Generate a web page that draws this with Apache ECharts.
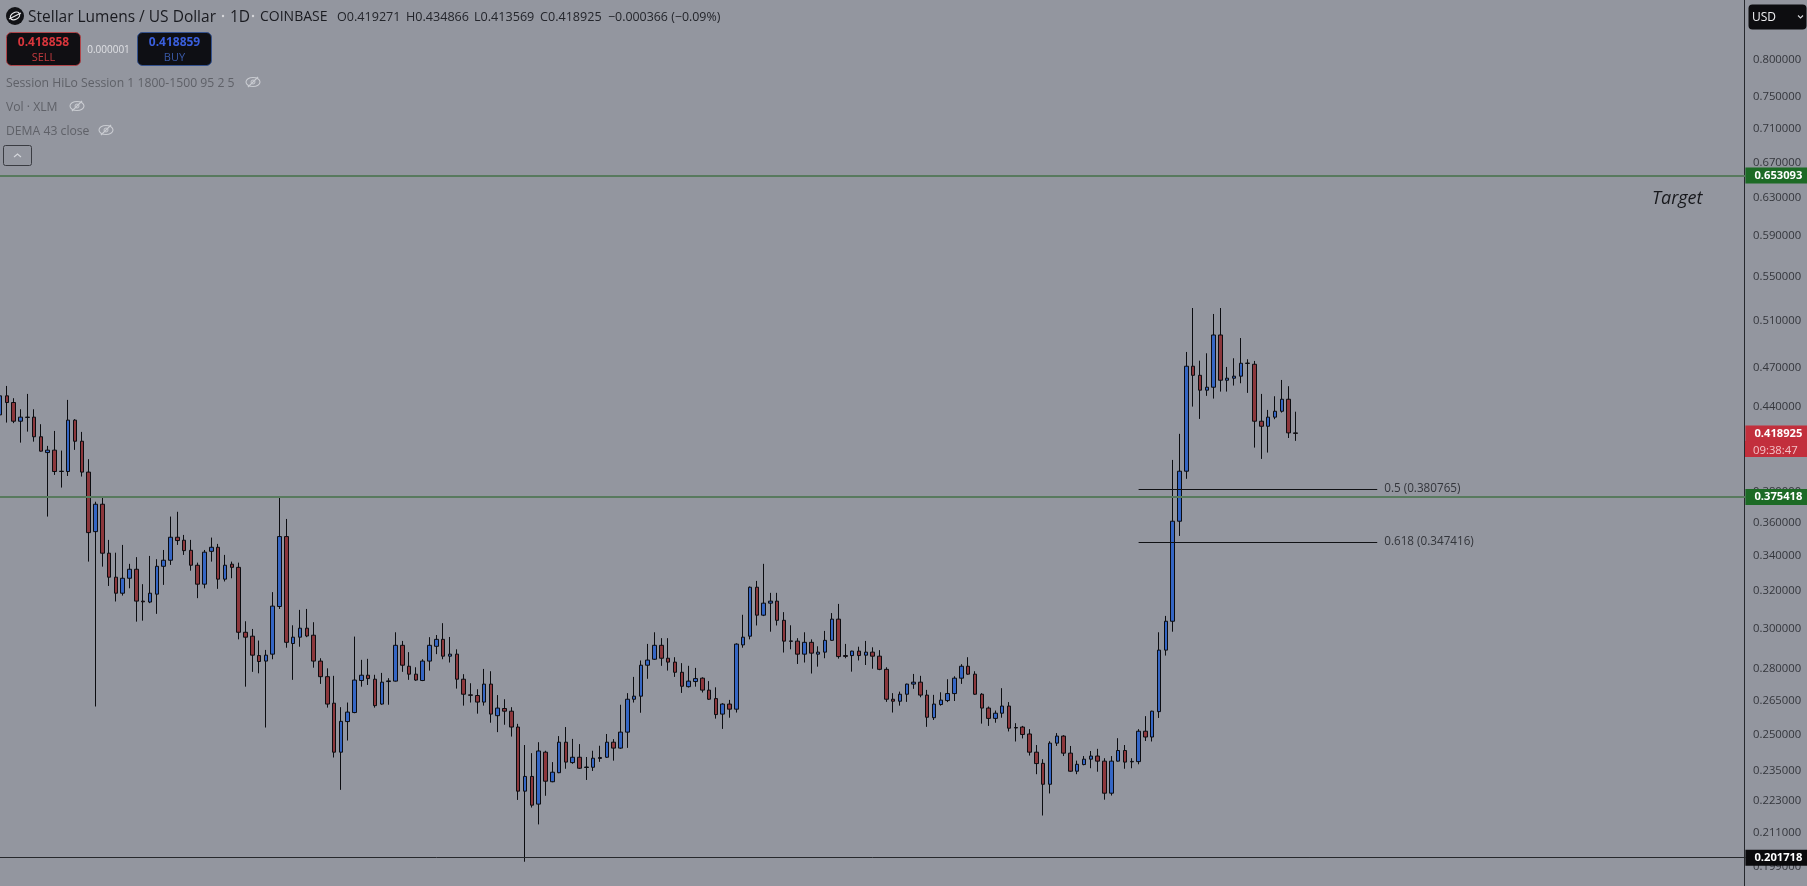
<!DOCTYPE html>
<html><head><meta charset="utf-8">
<style>html,body{margin:0;padding:0;background:#93969f;overflow:hidden}#c{width:1807px;height:886px}</style>
<script src="https://cdn.jsdelivr.net/npm/echarts@6/dist/echarts.min.js"></script>
</head><body><div id="c"></div>
<script>
const opens=[.4325,.4469,.4418,.4278,.4308,.4308,.4165,.4053,.4070,.3925,.3923,.4286,.4133,.3919,.3537,.3708,.3408,.3270,.3181,.3264,
.3315,.3138,.3133,.3176,.3332,.3367,.3503,.3485,.3425,.3338,.3231,.3419,.3443,.3259,.3344,.3326,.2974,.2954,.2857,.2830,
.2864,.3109,.3507,.2917,.2949,.2995,.2959,.2830,.2755,.2632,.2419,.2550,.2590,.2737,.2762,.2743,.2628,.2732,.2734,.2908,
.2805,.2767,.2737,.2830,.2903,.2938,.2854,.2864,.2743,.2670,.2667,.2637,.2720,.2576,.2608,.2596,.2526,.2262,.2320,.2212,
.2419,.2299,.2335,.2461,.2376,.2398,.2358,.2357,.2397,.2398,.2461,.2436,.2504,.2650,.2664,.2810,.2839,.2908,.2844,.2825,
.2776,.2708,.2732,.2748,.2692,.2653,.2583,.2628,.2605,.2910,.2954,.3214,.3063,.3127,.3138,.3036,.2930,.2929,.2864,.2923,
.2864,.2874,.2933,.3042,.2857,.2857,.2879,.2859,.2874,.2854,.2790,.2650,.2641,.2673,.2720,.2729,.2669,.2567,.2626,.2644,
.2676,.2748,.2805,.2767,.2673,.2610,.2564,.2587,.2619,.2524,.2526,.2496,.2419,.2373,.2289,.2457,.2487,.2415,.2341,.2368,
.2390,.2403,.2382,.2254,.2382,.2426,.2381,.2380,.2508,.2483,.2594,.2884,.3031,.3601,.3925,.4703,.4630,.4513,.4536,.4963,
.4591,.4607,.4623,.4728,.4719,.4278,.4241,.4308,.4352,.4443,.419271];
const closes=[.4469,.4418,.4278,.4308,.4306,.4165,.4063,.4070,.3923,.3923,.4286,.4133,.3919,.3531,.3708,.3408,.3270,.3181,.3264,.3315,
.3138,.3134,.3181,.3332,.3367,.3503,.3483,.3423,.3338,.3231,.3414,.3443,.3259,.3338,.3326,.2974,.2949,.2859,.2828,.2859,
.3111,.3507,.2923,.2949,.2995,.2955,.2830,.2755,.2628,.2419,.2551,.2592,.2739,.2762,.2746,.2621,.2729,.2735,.2908,.2810,
.2767,.2739,.2830,.2908,.2938,.2854,.2864,.2743,.2673,.2668,.2637,.2720,.2583,.2610,.2596,.2526,.2262,.2320,.2208,.2424,
.2301,.2337,.2461,.2378,.2398,.2353,.2356,.2394,.2393,.2461,.2436,.2504,.2650,.2664,.2810,.2835,.2908,.2844,.2825,.2776,
.2710,.2734,.2746,.2692,.2650,.2581,.2628,.2605,.2914,.2949,.3214,.3063,.3127,.3138,.3036,.2929,.2928,.2864,.2923,.2869,
.2874,.2933,.3042,.2852,.2853,.2879,.2857,.2874,.2854,.2790,.2650,.2641,.2673,.2720,.2729,.2669,.2569,.2628,.2646,.2676,
.2748,.2805,.2767,.2673,.2610,.2564,.2587,.2619,.2521,.2522,.2494,.2419,.2372,.2289,.2457,.2487,.2415,.2341,.2369,.2390,
.2403,.2382,.2254,.2382,.2426,.2378,.2379,.2508,.2483,.2596,.2884,.3031,.3601,.3925,.4703,.4630,.4513,.4536,.4963,.4591,
.4607,.4623,.4727,.4726,.4278,.4241,.4308,.4352,.4443,.4193,.418925];
const lows=[.4313,.4268,.4264,.4123,.4202,.4130,.4060,.3630,.3900,.3816,.3893,.4072,.3889,.3359,.2617,.3330,.3221,.3136,.3168,.3208,
.3029,.3034,.3127,.3070,.3227,.3340,.3457,.3398,.3307,.3154,.3208,.3359,.3205,.3246,.3264,.2938,.2708,.2778,.2771,.2524,
.2839,.3096,.2896,.2740,.2901,.2949,.2798,.2721,.2612,.2397,.2267,.2468,.2587,.2708,.2716,.2612,.2625,.2625,.2732,.2778,
.2740,.2735,.2734,.2784,.2864,.2839,.2823,.2699,.2621,.2635,.2585,.2621,.2545,.2504,.2536,.2485,.2228,.2003,.2199,.2136,
.2244,.2297,.2333,.2351,.2371,.2350,.2306,.2342,.2379,.2395,.2384,.2433,.2437,.2635,.2589,.2745,.2836,.2807,.2784,.2754,
.2679,.2704,.2708,.2681,.2647,.2563,.2518,.2567,.2590,.2896,.2938,.3009,.3058,.2977,.3009,.2872,.2888,.2816,.2823,.2770,
.2803,.2844,.2931,.2842,.2844,.2779,.2833,.2811,.2793,.2786,.2638,.2590,.2621,.2638,.2698,.2659,.2527,.2557,.2621,.2637,
.2642,.2721,.2764,.2670,.2541,.2531,.2545,.2567,.2507,.2464,.2477,.2405,.2329,.2169,.2253,.2445,.2403,.2339,.2329,.2365,
.2353,.2339,.2229,.2245,.2380,.2351,.2353,.2369,.2466,.2464,.2566,.2857,.2977,.3511,.3874,.4387,.4295,.4469,.4448,.4502,
.4502,.4549,.4567,.4492,.4088,.4009,.4053,.4293,.4342,.4156,.413569];
const highs=[.4500,.4546,.4451,.4367,.4484,.4367,.4256,.4100,.4207,.4067,.4438,.4293,.4200,.4007,.3724,.3752,.3487,.3411,.3457,.3346,
.3385,.3231,.3392,.3373,.3427,.3630,.3660,.3517,.3487,.3353,.3427,.3501,.3463,.3398,.3359,.3353,.3031,.2991,.2932,.2885,
.3187,.3748,.3615,.3010,.3091,.3096,.3026,.2844,.2795,.2759,.2614,.2635,.2952,.2836,.2841,.2764,.2773,.2748,.2974,.2930,
.2874,.2800,.2839,.2949,.2960,.3021,.2950,.2888,.2767,.2724,.2696,.2792,.2781,.2669,.2650,.2614,.2540,.2449,.2415,.2461,
.2425,.2378,.2487,.2526,.2475,.2453,.2399,.2425,.2446,.2496,.2474,.2625,.2678,.2754,.2833,.2915,.2974,.2944,.2944,.2849,
.2820,.2807,.2797,.2752,.2734,.2705,.2632,.2647,.2918,.3065,.3218,.3249,.3346,.3183,.3183,.3079,.3010,.2944,.2974,.2938,
.2903,.2981,.3074,.3123,.2915,.2881,.2901,.2930,.2898,.2884,.2800,.2678,.2685,.2722,.2768,.2759,.2693,.2670,.2682,.2743,
.2757,.2815,.2849,.2781,.2678,.2617,.2599,.2701,.2637,.2543,.2531,.2517,.2449,.2390,.2465,.2500,.2491,.2445,.2384,.2403,
.2424,.2433,.2394,.2403,.2478,.2449,.2394,.2517,.2574,.2598,.2974,.3059,.4002,.4186,.4820,.5199,.4748,.4809,.5146,.5199,
.4697,.4768,.4937,.4760,.4746,.4484,.4362,.4466,.4593,.4544,.434866];
const tickLabels=[.8,.75,.71,.67,.63,.59,.55,.51,.47,.44,.38,.36,.34,.32,.3,.28,.265,.25,.235,.223,.211,.199];
const targetLevel=.653093, pivotLevel=.375418, floorLevel=.201718, lastClose=.418925, fibHalf=.380765, fibGolden=.347416;
const SLOTS=257;
const categories=[];for(let i=0;i<SLOTS;i++)categories.push(String(i));
const candles=opens.map((o,i)=>[o,closes[i],lows[i],highs[i]]);

const BG='#93969f',FONT='"Open Sans",sans-serif',DIM='#5f6168',DARK='#23252b';
const txt=(x,y,t,s)=>({type:'text',x,y:y+1.5,silent:true,style:Object.assign({text:t,fill:DARK,font:'13px '+FONT,textVerticalAlign:'middle',textAlign:'left'},s||{})});
const rect=(x,y,w,h,fill,stroke,r)=>({type:'rect',silent:true,shape:{x,y,width:w,height:h,r:r||0},style:{fill,stroke:stroke||null,lineWidth:stroke?1:0}});
const line=(a,b,c,d,col,w)=>({type:'line',silent:true,shape:{x1:a,y1:b,x2:c,y2:d},style:{stroke:col,lineWidth:w||1}});
const eye=(x,y)=>({type:'group',x,y,silent:true,children:[
 {type:'ellipse',shape:{cx:0,cy:0,rx:7,ry:4.5},style:{fill:null,stroke:'#c9cbd1',lineWidth:1.1}},
 {type:'circle',shape:{cx:0,cy:0,r:2},style:{fill:null,stroke:'#c9cbd1',lineWidth:1}},
 line(-5,5,5,-5,'#c9cbd1',1.2)]});
const tag=(text,bg,opts)=>Object.assign({show:true,position:'end',distance:0,formatter:text,color:'#fff',fontFamily:FONT,fontWeight:'bold',fontSize:11.2,
  backgroundColor:bg,padding:[6,6,0,9],lineHeight:10},opts||{});
const hLine=(v,col,w,lbl)=>({yAxis:v,lineStyle:{color:col,width:w,type:'solid',opacity:1},label:lbl});
const fib=(v,name)=>[{coord:[167,v],lineStyle:{color:'#101114',width:1,type:'solid'},
  label:{show:true,position:'end',distance:7,formatter:name,color:'#33353b',fontFamily:FONT,fontSize:11.7,backgroundColor:'transparent',padding:[4,0,0,0]}},{coord:[202,v]}];

const chart=echarts.init(document.getElementById('c'),null,{renderer:'canvas',width:1807,height:886});
chart.setOption({
 animation:false,backgroundColor:BG,
 grid:{left:-0.5,top:0,width:1745.9,height:886,containLabel:false},
 xAxis:{type:'category',data:categories,boundaryGap:false,show:false},
 yAxis:{type:'log',position:'right',offset:-1.4,min:.1921,max:.8838,scale:true,
  axisLine:{show:true,onZero:false,lineStyle:{color:'#26282d',width:1}},axisTick:{show:false},splitLine:{show:false},minorTick:{show:false},
  axisLabel:{show:true,customValues:tickLabels,margin:9,color:'#34363c',fontFamily:FONT,fontSize:11.3,align:'left',verticalAlign:'top',lineHeight:3,
   formatter:v=>Number(v).toFixed(6)}},
 series:[{type:'candlestick',data:candles,barWidth:4,clip:false,
  itemStyle:{color:'#3566c4',color0:'#8c373c',borderColor:'#0b0c10',borderColor0:'#0b0c10',borderColorDoji:'#0b0c10',borderWidth:1},
  markLine:{silent:true,symbol:'none',animation:false,precision:6,data:[
   hLine(targetLevel,'#587a5e',2,tag('0.653093','#1c6a25')),
   hLine(pivotLevel,'#587a5e',2,tag('0.375418','#1c6a25')),
   hLine(floorLevel,'#26282c',1,tag('0.201718','#0a0a0c')),
   hLine(lastClose,'rgba(0,0,0,0)',0,tag('0.418925','#c22f3c')),
   fib(fibHalf,'0.5 (0.380765)'),
   fib(fibGolden,'0.618 (0.347416)')
  ]}}],
 graphic:{elements:[
  {type:'circle',silent:true,shape:{cx:15,cy:16,r:9},style:{fill:'#111216'}},
  {type:'ellipse',silent:true,shape:{cx:15,cy:16,rx:5,ry:3.4},rotation:.5,originX:15,originY:16,style:{fill:null,stroke:'#e6e6e8',lineWidth:1.2}},
  line(9,19,21,13,'#e6e6e8',1.2),
  txt(28,16,'Stellar Lumens / US Dollar',{font:'15.5px '+FONT,fill:'#1a1b20'}),
  {type:'circle',silent:true,shape:{cx:223,cy:16,r:1.2},style:{fill:'#d5d6da'}},
  txt(230,16,'1D',{font:'15.5px '+FONT,fill:'#1a1b20'}),
  {type:'circle',silent:true,shape:{cx:253,cy:16,r:1.2},style:{fill:'#d5d6da'}},
  txt(260,16,'COINBASE',{font:'14px '+FONT,fill:'#1a1b20'}),
  txt(337,16,'O0.419271',{font:'12.6px '+FONT}),
  txt(406,16,'H0.434866',{font:'12.6px '+FONT}),
  txt(474,16,'L0.413569',{font:'12.6px '+FONT}),
  txt(540,16,'C0.418925',{font:'12.6px '+FONT}),
  txt(608,16,'−0.000366 (−0.09%)',{font:'12.4px '+FONT}),
  rect(6.5,32.5,74,33,'#100f13','#b0454a',5),
  txt(43.5,41,'0.418858',{font:'bold 12px '+FONT,fill:'#d8363c',textAlign:'center'}),
  txt(43.5,56,'SELL',{font:'11px '+FONT,fill:'#c23a3e',textAlign:'center'}),
  txt(108.5,49,'0.000001',{font:'10px '+FONT,fill:'#dfe0e4',textAlign:'center'}),
  rect(137.5,32.5,74,33,'#0e0f14','#34528f',5),
  txt(174.5,41,'0.418859',{font:'bold 12px '+FONT,fill:'#3a5fdc',textAlign:'center'}),
  txt(174.5,56,'BUY',{font:'11px '+FONT,fill:'#3a5aa8',textAlign:'center'}),
  txt(6,82,'Session HiLo Session 1 1800-1500 95 2 5',{font:'12.2px '+FONT,fill:DIM}),
  eye(253,82),
  txt(6,106,'Vol · XLM',{font:'12.2px '+FONT,fill:DIM}),
  eye(77,106),
  txt(6,130,'DEMA 43 close',{font:'12.2px '+FONT,fill:DIM}),
  eye(106,130),
  rect(3.5,145.5,28,20,null,'#3a3c42',2),
  {type:'polyline',silent:true,shape:{points:[[14,157],[17.5,154],[21,157]]},style:{fill:null,stroke:'#d3d5da',lineWidth:1.2}},
  txt(1652,197,'Target',{font:'italic 18px '+FONT,fill:'#17181c'}),
  rect(1748.5,4.5,58,25,'#0d0d10',null,4),
  txt(1752,16,'USD',{font:'12px '+FONT,fill:'#f0f0f2'}),
  {type:'polyline',silent:true,shape:{points:[[1798,15.5],[1800.5,18],[1803,15.5]]},style:{fill:null,stroke:'#d6d6da',lineWidth:1.1}},
  rect(1745,441,62,16,'#c22f3c'),
  txt(1753,449,'09:38:47',{font:'11.3px '+FONT,fill:'#f4c3c8'})
 ]}
});
</script></body></html>
